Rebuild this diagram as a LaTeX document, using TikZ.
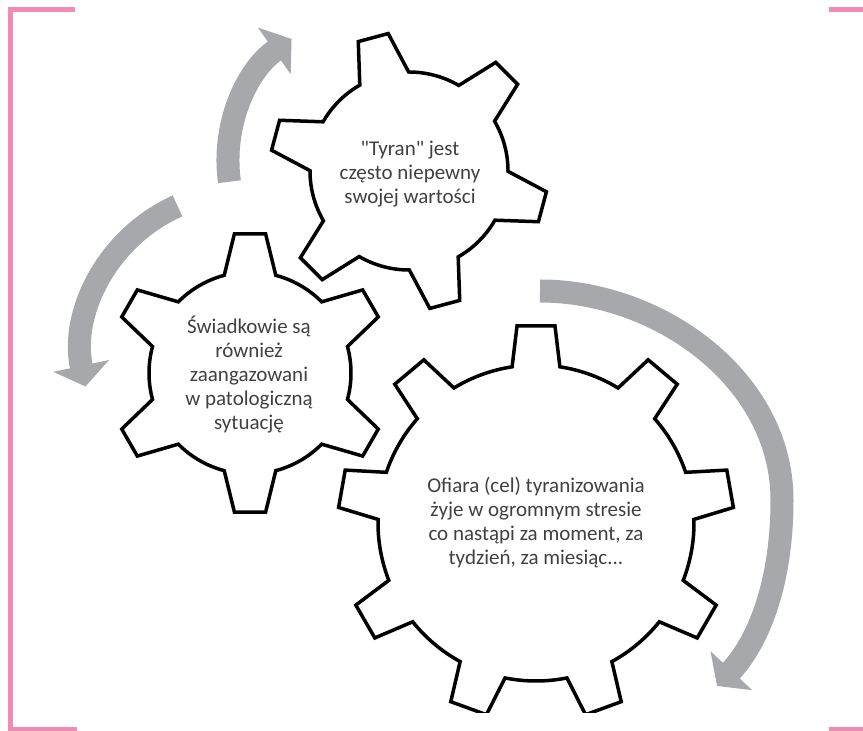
\documentclass[tikz,border=0pt]{standalone}
\usepackage{fontspec}
\setmainfont{Carlito}
\usetikzlibrary{arrows.meta}

\definecolor{bracketpink}{RGB}{242,139,180}
\definecolor{flowgray}{RGB}{166,168,171}
\definecolor{textgray}{RGB}{64,64,64}

% gear outline: centre, first tooth angle, pitch, teeth,
% root radius, tip radius, root half-angle, tip half-angle
\newcommand{\gearshape}[8]{%
  \begin{scope}[shift={(#1)}]
    \draw[gear] (#2-#7:#5)
      \foreach \k in {1,...,#4} {
        -- (#2+\k*#3-#3-#7:#5) -- (#2+\k*#3-#3-#8:#6)
        -- (#2+\k*#3-#3+#8:#6) -- (#2+\k*#3-#3+#7:#5)
        arc[start angle=#2+\k*#3-#3+#7, end angle=#2+\k*#3-#7, radius=#5]
      } -- cycle;
  \end{scope}}

\begin{document}
\begin{tikzpicture}[x=1pt,y=1pt,
  bracket/.style={line width=5pt,bracketpink},
  flow/.style={line width=23pt,flowgray,-{Triangle[length=21pt,width=56pt]}},
  gear/.style={line width=3.5pt,black},
  gearlabel/.style={text=textgray,align=center,font=\fontsize{21}{24}\selectfont}]

\useasboundingbox (0,0) rectangle (863,731);

% Frame corners
\draw[bracket] (75,721.5) -- (10,721.5) -- (10,1.5) -- (77,1.5);
\draw[bracket] (829,721.5) -- (863,721.5);
\draw[bracket] (829,1.5) -- (863,1.5);

% Turning arrows
\draw[flow] ([shift={(188:149)}]377,570) arc[start angle=188,end angle=125,radius=149];
\draw[flow] ([shift={(114:161)}]243,378) arc[start angle=114,end angle=192,radius=161];
\draw[flow] (540,440) .. controls (660,440) and (782,351) .. (782,231)
  .. controls (782,151) and (760,91) .. (717,45);

% Gear centres
\coordinate (g1) at (409,560);
\coordinate (g2) at (250,358);
\coordinate (g3) at (536,208);

% Gears
\gearshape{g1}{105}{60}{6}{99}{139}{14.8}{6.4}
\gearshape{g2}{90}{60}{6}{101}{140}{14.8}{6.4}
\begin{scope}
  \clip (0,18) rectangle (863,731);
  \gearshape{g3}{90}{40}{9}{158}{198}{8.7}{5.5}
\end{scope}

% Labels
\node[gearlabel] (tyran) at (410,557) {\textquotedbl Tyran\textquotedbl{} jest\\często niepewny\\swojej wartości};
\node[gearlabel] (swiadkowie) at (249,356) {Świadkowie są\\również\\zaangazowani\\w patologiczną\\sytuację};
\node[gearlabel] (ofiara) at (536,208) {Ofiara (cel) tyranizowania\\żyje w ogromnym stresie\\co nastąpi za moment, za\\tydzień, za miesiąc.{}.{}.};

\end{tikzpicture}
\end{document}
